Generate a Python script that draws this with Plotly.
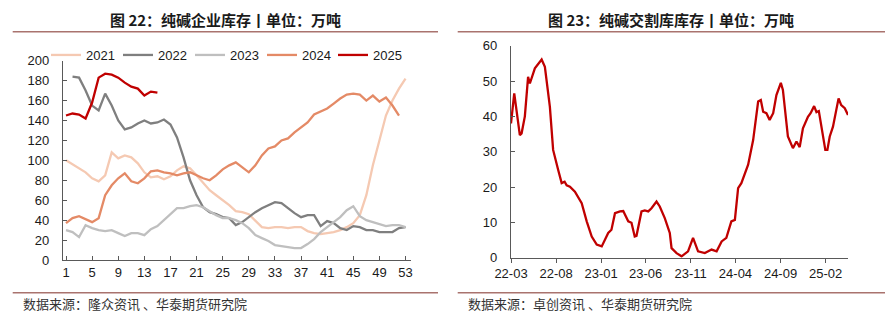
import plotly.graph_objects as go

# ---------------- Left chart data (weekly, 万吨) ----------------
weeks = list(range(1, 54))
s2021 = [100, 96, 92, 88, 82, 79, 85, 108, 102, 105, 103, 97, 88, 83, 84,
         81, 84, 90, 94, 92, 85, 77, 70, 65, 60, 55, 49, 48, 46, 39,
         33, 32, 33, 33, 32, 33, 33, 29, 27, 26, 27, 28, 30, 33, 37,
         45, 65, 95, 120, 145, 160, 172, 182]
s2022 = [None, 184, 183, 170, 155, 150, 167, 155, 140, 131, 133, 137, 140, 137, 138,
         141, 136, 123, 103, 80, 65, 53, 48, 46, 43, 42, 35, 38, 43, 48,
         52, 55, 58, 57, 52, 47, 43, 45, 45, 34, 39, 37, 32, 30, 34,
         33, 30, 30, 28, 28, 28, 32, 33]
s2023 = [30, 28, 23, 35, 32, 30, 29, 30, 27, 24, 27, 27, 25, 31, 34,
         40, 46, 52, 52, 54, 55, 53, 49, 45, 42, 42, 40, 37, 32, 25,
         22, 19, 15, 14, 13, 12, 12, 16, 21, 28, 33, 38, 43, 50, 54,
         44, 40, 38, 36, 34, 35, 35, 33]
s2024 = [37, 42, 44, 41, 38, 42, 65, 75, 82, 87, 79, 77, 82, 89, 90,
         88, 87, 85, 87, 88, 85, 82, 80, 85, 91, 95, 98, 93, 88, 95,
         105, 112, 114, 120, 122, 128, 133, 138, 146, 149, 152, 157, 162, 166, 167,
         166, 160, 165, 159, 163, 155, 145]
s2025 = [145, 147, 146, 142, 158, 183, 187, 186, 183, 178, 174, 172, 165, 169, 168]

series_names = ["2021", "2022", "2023", "2024", "2025"]
series_vals = [s2021, s2022, s2023, s2024, s2025]
series_colors = ["#F5C9B2", "#7F7F7F", "#BFBFBF", "#E48A66", "#C00000"]
left_ticks = list(range(1, 54, 4))

# ---------------- Right chart data (交割库库存, 万吨) ----------------
dates = ["2022-03-01", "2022-03-12", "2022-03-31", "2022-04-06", "2022-04-17", "2022-04-28",
         "2022-05-04", "2022-05-10", "2022-05-21", "2022-06-13", "2022-06-24", "2022-07-11",
         "2022-07-22", "2022-08-08", "2022-08-20", "2022-08-30", "2022-09-06", "2022-09-17",
         "2022-10-04", "2022-10-27", "2022-11-13", "2022-11-30", "2022-12-17", "2023-01-03",
         "2023-01-14", "2023-01-25", "2023-02-05", "2023-02-17", "2023-03-06", "2023-03-17",
         "2023-04-03", "2023-04-14", "2023-04-25", "2023-05-01", "2023-05-18", "2023-05-29",
         "2023-06-10", "2023-06-21", "2023-07-08", "2023-07-19", "2023-08-05", "2023-08-22",
         "2023-08-28", "2023-09-14", "2023-10-01", "2023-10-23", "2023-11-09", "2023-11-26",
         "2023-12-19", "2024-01-11", "2024-01-28", "2024-02-14", "2024-03-01", "2024-03-18",
         "2024-03-30", "2024-04-10", "2024-04-21", "2024-05-14", "2024-05-31", "2024-06-17",
         "2024-06-26", "2024-07-04", "2024-07-15", "2024-07-26", "2024-08-07", "2024-08-18",
         "2024-09-02", "2024-09-09", "2024-09-26", "2024-10-13", "2024-10-25", "2024-11-05",
         "2024-11-16", "2024-12-03", "2024-12-12", "2024-12-24", "2025-01-01", "2025-01-09",
         "2025-01-31", "2025-02-07", "2025-02-15", "2025-02-26", "2025-03-17", "2025-03-26",
         "2025-04-07", "2025-04-18"]
stock = [38.0, 46.5, 34.7, 35.2, 40.0, 51.2,
         49.3, 51.0, 53.6, 56.1, 54.0, 42.7,
         30.5, 24.9, 21.1, 21.5, 20.5, 20.1,
         18.7, 15.4, 10.3, 6.0, 3.7, 3.2,
         5.1, 7.0, 7.9, 12.6, 13.1, 13.2,
         10.3, 9.9, 6.0, 6.2, 13.1, 13.4,
         13.1, 14.0, 15.9, 14.5, 11.2, 7.0,
         2.7, 1.3, 0.4, 1.8, 5.6, 1.8,
         1.3, 2.3, 1.8, 4.6, 5.6, 10.3,
         10.7, 19.7, 21.1, 26.3, 33.3, 44.2,
         44.6, 41.3, 40.9, 39.0, 40.9, 46.0,
         49.5, 47.5, 34.3, 31.0, 32.9, 31.3,
         36.6, 39.9, 40.9, 42.9, 41.2, 41.5,
         30.5, 30.5, 34.3, 37.1, 45.1, 43.2,
         42.3, 40.4]

W, H = 893, 321
FONT = "Liberation Sans, Arial, sans-serif"
CJK = "Noto Sans CJK SC, sans-serif"
AX = "#595959"

legend_ids = ["legend", "legend2", "legend3", "legend4", "legend5"]
legend_x = [46, 118, 190, 262, 333]

fig = go.Figure()
for name, vals, col, lid in zip(series_names, series_vals, series_colors, legend_ids):
    fig.add_trace(go.Scatter(x=weeks[:len(vals)], y=vals, name=name, mode="lines",
                             line=dict(color=col, width=2.3), xaxis="x", yaxis="y",
                             legend=lid))

fig.add_trace(go.Scatter(x=dates, y=stock, mode="lines", showlegend=False,
                         line=dict(color="#C00000", width=2.3), xaxis="x2", yaxis="y2"))

common_tick = dict(tickfont=dict(family=FONT, size=13, color="#1a1a1a"),
                   showgrid=False, zeroline=False, showline=True, automargin=False,
                   linecolor=AX, linewidth=1.3, tickcolor=AX, ticklen=4, tickwidth=1)

fig.update_layout(
    width=W, height=H, margin=dict(l=0, r=0, t=0, b=0, pad=0, autoexpand=False),
    paper_bgcolor="white", plot_bgcolor="white",
    xaxis=dict(domain=[63 / W, 411 / W], range=[0.54, 53.84], tickmode="array",
               tickvals=left_ticks, ticks="inside", anchor="y", **common_tick),
    yaxis=dict(domain=[(H - 260) / H, (H - 60.7) / H], range=[0, 200], dtick=20,
               ticks="inside", anchor="x", ticklabelstandoff=10, **common_tick),
    xaxis2=dict(domain=[511 / W, 848 / W], type="date",
                range=["2022-03-01", "2025-04-18"], tick0="2022-03-01", dtick="M5",
                tickformat="%y-%m", ticks="outside", anchor="y2", **common_tick),
    yaxis2=dict(domain=[(H - 257.7) / H, (H - 45.7) / H], range=[0, 60], dtick=10,
                ticks="inside", anchor="x2", ticklabelstandoff=10, **common_tick),
    showlegend=True,
)
for lid, lx in zip(legend_ids, legend_x):
    fig.update_layout({lid: dict(orientation="h", x=lx / W, y=(H - 40) / H,
                                 xanchor="left", yanchor="top",
                                 font=dict(family=FONT, size=13, color="#1a1a1a"),
                                 bgcolor="rgba(0,0,0,0)", itemwidth=30)})

RULE = "#A9736E"
shapes = []
for x0, x1 in [(12.7, 438), (457.7, 885)]:
    for yy in (31.7, 292.7):
        shapes.append(dict(type="line", xref="paper", yref="paper",
                           x0=x0 / W, x1=x1 / W, y0=(H - yy) / H, y1=(H - yy) / H,
                           line=dict(color=RULE, width=1.6)))
fig.update_layout(shapes=shapes)

annotations = [
    dict(text="<b>图 22：纯碱企业库存丨单位：万吨</b>", x=225 / W, y=(H - 19) / H),
    dict(text="<b>图 23：纯碱交割库库存丨单位：万吨</b>", x=671 / W, y=(H - 19) / H),
]
for a in annotations:
    fig.add_annotation(xref="paper", yref="paper", showarrow=False, xanchor="center",
                       yanchor="middle", font=dict(family=CJK, size=15, color="#1a1a1a"), **a)
for x0 in (20.7, 465.7):
    txt = "数据来源：隆众资讯 、华泰期货研究院" if x0 < 100 else "数据来源：卓创资讯 、华泰期货研究院"
    fig.add_annotation(xref="paper", yref="paper", showarrow=False, xanchor="left",
                       yanchor="middle", x=x0 / W, y=(H - 303) / H, text=txt,
                       font=dict(family=CJK, size=13, color="#333333"))

fig.write_html("out.html")
